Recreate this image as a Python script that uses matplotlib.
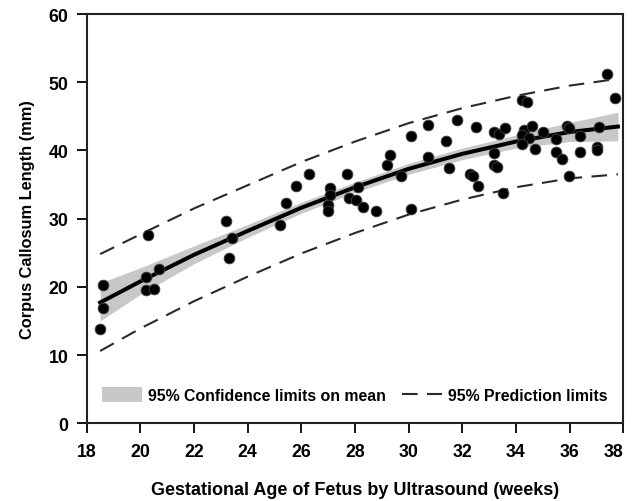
import matplotlib
matplotlib.use("Agg")
import matplotlib.pyplot as plt
from matplotlib.patches import Patch
from matplotlib.lines import Line2D

plt.rcParams['font.family'] = ['Liberation Sans', 'DejaVu Sans']
plt.rcParams['font.weight'] = 'bold'

# observed points (gestational age in weeks, corpus callosum length in mm)
age = [18.60, 18.60, 18.50, 20.30, 20.21, 20.21, 20.51, 20.69, 23.19, 23.40,
       23.30, 25.20, 25.42, 25.80, 26.30, 27.07, 27.07, 27.00, 27.00, 27.69,
       28.10, 27.78, 28.03, 28.31, 28.78, 29.20, 29.30, 29.71, 30.09, 30.09,
       30.71, 30.71, 31.50, 31.39, 31.81, 32.51, 32.29, 32.39, 32.60, 33.19,
       33.37, 33.60, 33.19, 33.19, 33.30, 33.51, 34.24, 34.40, 34.31, 34.61,
       34.21, 34.50, 34.21, 34.71, 35.02, 35.49, 35.49, 35.70, 35.89, 35.99,
       36.39, 36.39, 35.99, 37.01, 37.01, 37.10, 37.40, 37.70]
length = [20.2, 16.95, 13.8, 27.65, 21.5, 19.55, 19.7, 22.6, 29.7, 27.1,
          24.3, 29.0, 32.3, 34.8, 36.55, 34.5, 33.5, 32.0, 31.1, 36.55,
          34.7, 33.1, 32.7, 31.75, 31.1, 37.9, 39.4, 36.3, 42.1, 31.4,
          43.7, 39.1, 37.4, 41.4, 44.4, 43.5, 36.55, 36.2, 34.75, 42.7,
          42.4, 43.25, 39.6, 37.9, 37.6, 33.7, 47.45, 47.15, 43.0, 43.6,
          42.3, 41.8, 40.95, 40.2, 42.75, 41.7, 39.8, 38.75, 43.6, 43.25,
          42.1, 39.8, 36.3, 40.5, 40.1, 43.45, 51.25, 47.75]

# fitted curve and limits
fit_x = [18.5, 20, 22, 24, 26, 28, 30, 32, 34, 36, 37.8]
fit_y = [17.7, 20.8, 24.7, 28.2, 31.6, 34.6, 37.3, 39.5, 41.3, 42.7, 43.5]
ci_lo = [15.0, 18.9, 23.4, 27.25, 30.8, 33.85, 36.5, 38.65, 40.35, 41.3, 41.4]
ci_hi = [20.6, 22.8, 26.0, 29.15, 32.4, 35.35, 38.1, 40.35, 42.25, 44.1, 45.6]
pi_lo = [10.6, 13.9, 17.9, 21.5, 24.9, 27.9, 30.6, 32.8, 34.6, 35.9, 36.5]
pi_hi = [24.8, 27.7, 31.5, 34.9, 38.3, 41.3, 44.0, 46.2, 48.0, 49.5, 50.5]

fig = plt.figure(figsize=(6.32, 5.02), dpi=100)
ax = fig.add_axes([0.1372, 0.1548, 0.849, 0.8153])

band_color = '#c8c8c8'
ax.fill_between(fit_x, ci_lo, ci_hi, color=band_color, lw=0, zorder=1)
dash_kw = dict(color='#2a2a2a', lw=1.5, dashes=(7.5, 4.5), zorder=2)
ax.plot(fit_x, pi_lo, **dash_kw)
ax.plot(fit_x, pi_hi, **dash_kw)
ax.plot(fit_x, fit_y, color='black', lw=2.9, zorder=3)
ax.scatter(age, length, s=60, color='black', edgecolors='#444444',
           linewidths=0.6, zorder=4)

ax.set_xlim(18, 38)
ax.set_ylim(0, 60)
ax.set_xticks(range(18, 39, 2))
ax.set_yticks(range(0, 61, 10))
ax.tick_params(direction='out', length=7, width=1.3, labelsize=12.8, pad=6)
ax.tick_params(axis='x', pad=7)
for lab in ax.get_xticklabels() + ax.get_yticklabels():
    lab.set_fontweight('bold')
# keep the last x label inside the figure
ax.get_xticklabels()[-1].set_horizontalalignment('right')
ax.get_xticklabels()[-1].set_x(38.35)
for sp in ax.spines.values():
    sp.set_linewidth(1.5)
    sp.set_color('#222222')

ax.set_xlabel('Gestational Age of Fetus by Ultrasound (weeks)',
              fontsize=13, fontweight='bold', labelpad=15)
ax.set_ylabel('Corpus Callosum Length (mm)', fontsize=11.8,
              fontweight='bold', labelpad=10)

handles = [Patch(facecolor=band_color, edgecolor='none'),
           Line2D([], [], color='#2a2a2a', lw=1.5, dashes=(7.5, 4.5))]
ax.legend(handles, ['95% Confidence limits on mean', '95% Prediction limits'],
          loc='lower center', bbox_to_anchor=(0.5, 0.015), ncol=2,
          frameon=False, handlelength=2.5, handleheight=1.0,
          handletextpad=0.4, columnspacing=1.0,
          prop={'weight': 'bold', 'size': 11.4})

fig.savefig('out.png', dpi=100)
